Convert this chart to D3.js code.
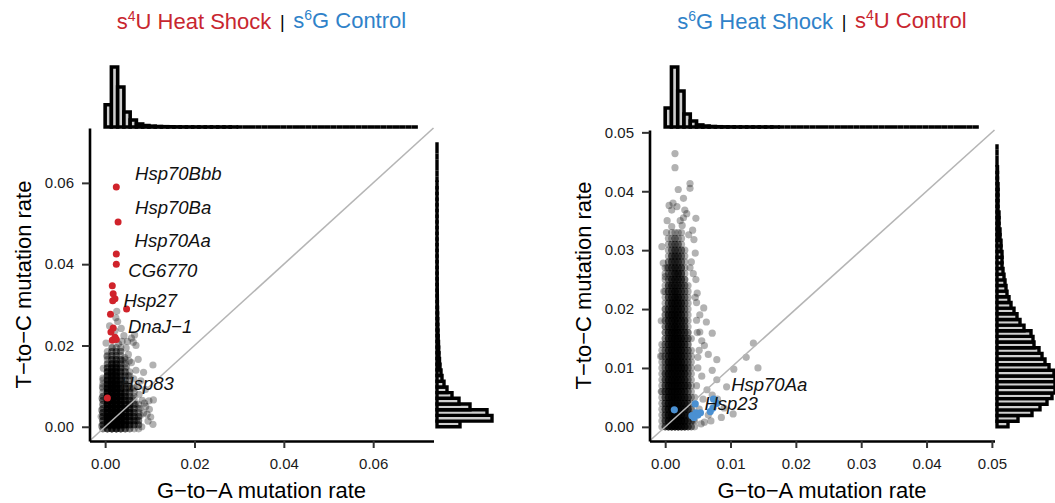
<!DOCTYPE html>
<html>
<head>
<meta charset="utf-8">
<script src="https://cdn.jsdelivr.net/npm/d3@7"></script>
<style>
  body { margin: 0; background: #fff; font-family: "Liberation Sans", Arial, sans-serif; }
  .tick text { font-size: 15px; fill: #1a1a1a; font-family: "Liberation Sans", Arial, sans-serif; }
  .tick line { stroke: #333; stroke-width: 2; }
  .domain { stroke: #000; stroke-width: 2.6; }
  .axis-title { font-size: 22px; fill: #000; }
  .gene { font-size: 18.5px; font-style: italic; fill: #111; }
  .title { font-size: 22px; }
</style>
</head>
<body>
<svg id="chart" width="1055" height="503"></svg>
<script>
// all rates below are in units of 1e-3 (mutation rate x 1000)
const hsLimits = [0, 70];
const ctLimits = [0, 48];
const hsTicks = [0, 20, 40, 60];
const ctTicks = [0, 10, 20, 30, 40, 50];

// marginal histograms, 50 bins over the limits
const hsGaHist = [1850, 5000, 3330, 1250, 580, 250, 120, 70, 40, 25, 15, 10, 6, 4, 3, 2, 2, 1, 1, 1, 1,
  0, 0, 0, 0, 0, 0, 0, 0, 0, 0, 0, 0, 0, 0, 0, 0, 0, 0, 0, 0, 0, 0, 0, 0, 0, 0, 0, 0, 0];
const hsTcHist = [2300, 5500, 5000, 3300, 2200, 1500, 1000, 700, 500, 400, 300, 250, 200, 170, 150, 120,
  100, 80, 70, 60, 50, 40, 35, 30, 25, 20, 15, 12, 10, 8, 6, 5, 4, 3, 3, 2, 2, 1, 1, 1, 1, 1, 1,
  0, 0, 0, 0, 0, 0, 0];
const ctGaHist = [1580, 5000, 3000, 1080, 500, 170, 80, 40, 20, 12, 8, 5, 3, 2, 2, 1, 1, 1,
  0, 0, 0, 0, 0, 0, 0, 0, 0, 0, 0, 0, 0, 0, 0, 0, 0, 0, 0, 0, 0, 0, 0, 0, 0, 0, 0, 0, 0, 0, 0, 0];
const ctTcHist = [110, 210, 350, 430, 500, 550, 580, 580, 580, 570, 520, 480, 450, 420, 370, 360, 340,
  270, 230, 200, 170, 140, 120, 100, 90, 80, 70, 60, 50, 50, 50, 40, 40, 30, 30, 20, 20, 20, 10, 10,
  10, 10, 10, 5, 5, 5, 0, 0, 0, 0];

// dense core of the s4U heat shock cloud: gene counts per (G-to-A, T-to-C) cell
const hsCoreX = [-0.5, 0.5, 1.5, 2.5, 3.5, 4.5, 5.5, 6.5, 7.5];
const hsCoreY = [-0.5, 0.5, 1.5, 2.5, 3.5, 4.5, 5.5, 6.5, 7.5, 8.5, 9.5, 10.5, 11.5, 12.5, 13.5,
  14.5, 15.5, 16.5, 17.5, 18.5, 19.5];
const hsCoreCounts = [
  [2, 4, 5, 5, 4, 3, 2, 1, 1],
  [3, 8, 9, 9, 8, 6, 4, 3, 2],
  [3, 9, 10, 9, 8, 6, 4, 3, 2],
  [3, 9, 10, 9, 8, 6, 4, 3, 2],
  [3, 8, 10, 9, 7, 5, 4, 3, 1],
  [2, 8, 9, 9, 7, 5, 4, 2, 1],
  [2, 8, 9, 8, 7, 5, 3, 2, 1],
  [2, 7, 9, 8, 6, 4, 3, 1, 0],
  [2, 7, 8, 8, 6, 4, 2, 1, 0],
  [1, 6, 8, 7, 5, 3, 2, 1, 0],
  [1, 6, 8, 7, 5, 3, 2, 1, 0],
  [1, 5, 7, 7, 4, 3, 1, 0, 0],
  [1, 5, 7, 6, 4, 2, 1, 0, 0],
  [0, 4, 6, 6, 3, 2, 1, 0, 0],
  [0, 4, 6, 5, 3, 2, 1, 0, 0],
  [0, 3, 5, 5, 3, 1, 0, 0, 0],
  [0, 2, 4, 4, 2, 1, 0, 0, 0],
  [0, 1, 3, 3, 2, 1, 0, 0, 0],
  [0, 1, 2, 2, 1, 0, 0, 0, 0],
  [0, 1, 2, 2, 1, 0, 0, 0, 0],
  [0, 0, 1, 1, 1, 0, 0, 0, 0]
];
const hsGrey = [[10.7, 15.2], [10.8, 6.6], [10.7, 0.6], [9.1, 5.0], [8.6, 3.4], [6.9, 20.0], [6.3, 20.8],
  [2.6, 28.4], [2.8, 25.9], [2.2, 23.6], [1.0, 24.8], [0.4, 17.3], [-0.4, 14.4], [5.9, 21.8], [6.6, 22.6],
  [8.6, 13.4], [3.4, 18.6], [4.4, 17.0], [5.9, 15.8], [6.9, 13.9], [8.0, 11.3], [7.6, 8.0], [9.8, 6.4],
  [9.4, 3.1], [8.2, 0.0], [-0.8, 4.1], [-0.6, 9.8], [-0.8, 0.2], [3.8, 21.0], [4.7, 19.4], [5.2, 17.8],
  [7.4, 16.6], [6.4, 11.8], [7.2, 10.0], [9.0, 9.2], [8.3, 6.5], [9.6, 1.4], [7.9, 2.8], [3.0, 20.4],
  [1.6, 19.5], [0.2, 20.6], [2.4, 26.8], [3.6, 24.2], [4.2, 22.4], [5.0, 21.0], [7.0, 1.5], [7.8, 4.5],
  [6.2, 7.0], [5.8, 9.5], [5.2, 12.5], [4.8, 14.8], [-0.9, 2.5], [-0.7, 7.0], [-0.5, 12.0], [3.9, 16.3],
  [8.8, 5.8], [9.9, 4.3], [10.2, 2.4], [6.8, 5.6], [5.4, 16.2]];
const hsRed = [[2.5, 59.0], [2.9, 50.4], [2.5, 42.5], [2.5, 40.0], [1.6, 34.7], [1.8, 32.7], [1.7, 31.0],
  [2.2, 31.5], [4.8, 29.0], [1.2, 27.7], [1.8, 24.3], [1.3, 23.3], [2.2, 22.0], [1.6, 21.3], [2.5, 21.5],
  [0.5, 7.1]];
const hsLabels = [["Hsp70Bbb", 6.7, 60.7], ["Hsp70Ba", 6.7, 52.3], ["Hsp70Aa", 6.6, 44.2],
  ["CG6770", 5.2, 36.8], ["Hsp27", 4.1, 29.4], ["DnaJ-1", 5.1, 23.0], ["Hsp83", 3.4, 9.1]];

// s6G heat shock cloud
const ctCoreX = [-0.5, 0, 0.5, 1, 1.5, 2, 2.5, 3, 3.5, 4, 4.5];
const ctCoreY = [0, 1, 2, 3, 4, 5, 6, 7, 8, 9, 10, 11, 12, 13, 14, 15, 16, 17, 18, 19, 20, 21, 22, 23,
  24, 25, 26, 27, 28, 29, 30, 31, 32, 33];
const ctCoreCounts = [
  [1, 3, 5, 6, 6, 6, 5, 5, 3, 2, 1],
  [1, 3, 5, 6, 6, 6, 6, 5, 3, 2, 1],
  [1, 3, 5, 6, 6, 6, 6, 4, 3, 2, 1],
  [1, 3, 5, 6, 6, 6, 5, 4, 3, 2, 0],
  [1, 3, 5, 6, 6, 6, 5, 4, 3, 1, 0],
  [1, 3, 5, 6, 6, 6, 5, 4, 3, 1, 1],
  [1, 3, 5, 6, 6, 6, 5, 4, 2, 1, 0],
  [1, 3, 5, 6, 6, 6, 5, 4, 3, 1, 0],
  [1, 3, 5, 6, 6, 6, 5, 4, 2, 1, 0],
  [1, 3, 5, 6, 6, 6, 5, 4, 2, 1, 0],
  [1, 2, 5, 6, 6, 6, 5, 4, 2, 1, 0],
  [1, 2, 5, 6, 6, 6, 5, 3, 2, 1, 0],
  [1, 2, 4, 6, 6, 6, 5, 3, 2, 1, 0],
  [1, 2, 4, 6, 6, 6, 5, 3, 2, 1, 0],
  [1, 2, 4, 6, 6, 6, 5, 3, 2, 0, 0],
  [0, 2, 4, 6, 6, 6, 5, 3, 2, 1, 0],
  [0, 2, 4, 6, 6, 6, 4, 3, 2, 0, 0],
  [0, 2, 4, 5, 6, 5, 4, 3, 1, 0, 0],
  [0, 2, 4, 5, 6, 5, 4, 3, 1, 0, 0],
  [0, 2, 4, 5, 6, 5, 4, 2, 1, 0, 0],
  [0, 2, 3, 5, 5, 5, 4, 2, 1, 0, 0],
  [0, 1, 3, 5, 5, 5, 4, 2, 1, 0, 0],
  [0, 1, 3, 4, 5, 5, 3, 2, 1, 0, 0],
  [0, 1, 3, 4, 5, 4, 3, 2, 1, 0, 0],
  [0, 1, 3, 4, 4, 4, 3, 2, 1, 0, 0],
  [0, 1, 2, 4, 4, 4, 3, 2, 0, 0, 0],
  [0, 1, 2, 3, 4, 4, 3, 1, 0, 0, 0],
  [0, 1, 2, 3, 4, 3, 3, 1, 0, 0, 0],
  [0, 0, 2, 3, 3, 3, 2, 1, 0, 0, 0],
  [0, 0, 1, 3, 3, 3, 2, 1, 0, 0, 0],
  [0, 0, 1, 2, 3, 2, 2, 1, 0, 0, 0],
  [0, 0, 1, 2, 2, 2, 1, 0, 0, 0, 0],
  [0, 0, 1, 1, 2, 1, 1, 0, 0, 0, 0],
  [0, 0, 0, 1, 1, 1, 1, 0, 0, 0, 0]
];
const ctGrey = [[1.5, 46.4], [1.5, 44.0], [2.0, 40.3], [3.8, 41.3], [3.8, 40.5], [4.7, 35.4], [2.8, 38.8],
  [1.2, 38.0], [1.0, 36.8], [3.0, 36.8], [3.3, 36.2], [0.3, 35.0], [2.3, 35.0], [2.8, 35.5], [0.2, 33.0],
  [1.0, 34.0], [1.8, 37.4], [2.6, 34.2], [0.6, 37.6], [4.3, 26.0], [4.6, 29.5], [4.0, 28.0], [3.8, 27.0],
  [4.9, 22.7], [4.8, 21.1], [0.3, 27.0], [0.0, 25.5], [-0.2, 23.0], [-0.5, 30.6], [-0.3, 27.8], [4.4, 31.8],
  [4.2, 33.4], [3.6, 32.6], [-0.6, 18.0], [-0.7, 12.0], [-0.6, 6.0], [6.3, 17.8], [7.2, 15.9], [6.0, 13.8],
  [7.9, 11.4], [13.5, 14.2], [12.4, 11.8], [14.2, 10.0], [10.5, 9.8], [7.2, 9.6], [9.4, 6.8], [7.2, 5.4],
  [10.4, 2.2], [7.0, 1.0], [4.3, 1.2], [5.8, 4.7], [8.0, 4.7], [6.0, 0.8], [5.5, 0.5], [4.8, 7.0],
  [5.0, 10.0], [5.2, 13.0], [4.9, 16.0], [5.3, 19.0], [4.6, 22.0], [4.8, 18.1], [5.3, 16.1], [7.9, 8.0],
  [6.4, 6.3], [5.6, 8.6], [5.2, 3.0], [6.6, 2.0], [8.6, 1.6], [5.0, 11.8], [5.6, 14.6], [4.7, 25.0],
  [5.9, 20.2], [6.6, 12.3], [9.0, 3.2]];
const ctBlue = [[1.4, 2.9], [4.6, 3.9], [4.1, 1.9], [4.7, 2.4], [5.0, 2.0], [5.4, 2.4], [6.9, 2.6],
  [7.4, 4.7], [7.3, 3.2], [7.9, 4.0], [4.4, 1.6]];
const ctLabels = [["Hsp70Aa", 10.1, 6.15], ["Hsp23", 6.0, 2.9]];

const red = "#d0232b", blue = "#4a90d2";
const titleRed = "#c8262f", titleBlue = "#2f82c9";

const svg = d3.select("#chart");

function expandCore(xs, ys, counts) {
  const pts = [];
  counts.forEach((row, j) => row.forEach((n, i) => {
    for (let k = 0; k < n; k++) pts.push([xs[i], ys[j]]);
  }));
  return pts;
}

function drawPanel(p) {
  const span = p.limits[1] - p.limits[0];
  const dom = [p.limits[0] - 0.05 * span, p.limits[1] + 0.05 * span];
  const x = d3.scaleLinear().domain(dom).range(p.xRange);
  const y = d3.scaleLinear().domain(dom).range(p.yRange);
  const g = svg.append("g");
  const bw = span / 50;

  // top marginal histogram (G-to-A); paths so empty bins still draw their outline
  const hTop = d3.scaleLinear().domain([0, d3.max(p.gaHist)]).range([0, 60]);
  g.append("g").selectAll("path").data(p.gaHist).join("path")
    .attr("d", (d, i) => {
      const x0 = x(p.limits[0] + i * bw), x1 = x(p.limits[0] + (i + 1) * bw);
      return `M${x0},${p.topBase}V${p.topBase - hTop(d)}H${x1}V${p.topBase}Z`;
    })
    .attr("fill", "#cfcfcf").attr("stroke", "#000").attr("stroke-width", 3.6);

  // right marginal histogram (T-to-C)
  const hSide = d3.scaleLinear().domain([0, d3.max(p.tcHist)]).range([0, p.sideMax]);
  g.append("g").selectAll("path").data(p.tcHist).join("path")
    .attr("d", (d, i) => {
      const y0 = y(p.limits[0] + i * bw), y1 = y(p.limits[0] + (i + 1) * bw);
      return `M${p.sideBase},${y0}H${p.sideBase + hSide(d)}V${y1}H${p.sideBase}Z`;
    })
    .attr("fill", "#cfcfcf").attr("stroke", "#000").attr("stroke-width", 3.4);

  // grey points
  const grey = expandCore(p.coreX, p.coreY, p.coreCounts).concat(p.grey);
  g.append("g").selectAll("circle").data(grey).join("circle")
    .attr("cx", d => x(d[0])).attr("cy", d => y(d[1])).attr("r", 3.6)
    .attr("fill", "#000").attr("fill-opacity", 0.3);

  // y = x
  g.append("line")
    .attr("x1", x(dom[0])).attr("y1", y(dom[0]))
    .attr("x2", x(dom[1])).attr("y2", y(dom[1]))
    .attr("stroke", "#b5b5b5").attr("stroke-width", 1.6);

  g.append("g").selectAll("circle").data(p.hits).join("circle")
    .attr("cx", d => x(d[0])).attr("cy", d => y(d[1])).attr("r", p.hitR)
    .attr("fill", p.hitColor);

  g.append("g").selectAll("text").data(p.labels).join("text")
    .attr("class", "gene")
    .attr("x", d => x(d[1])).attr("y", d => y(d[2]))
    .text(d => d[0].replace("-", "\u2212"));

  const fmt = d => (d / 1000).toFixed(2);
  g.append("g").attr("transform", `translate(0,${p.yRange[0]})`)
    .call(d3.axisBottom(x).tickValues(p.ticks).tickFormat(fmt).tickSize(7).tickSizeOuter(0).tickPadding(10));
  g.append("g").attr("transform", `translate(${p.xRange[0]},0)`)
    .call(d3.axisLeft(y).tickValues(p.ticks).tickFormat(fmt).tickSize(7.5).tickSizeOuter(0).tickPadding(8));

  const cx = (p.xRange[0] + p.xRange[1]) / 2;
  const cy = (p.yRange[0] + p.yRange[1]) / 2;
  g.append("text").attr("class", "axis-title").attr("text-anchor", "middle")
    .attr("x", cx).attr("y", 498).text("G\u2212to\u2212A mutation rate");
  g.append("text").attr("class", "axis-title").attr("text-anchor", "middle")
    .attr("transform", `translate(${p.xRange[0] - 59},${cy}) rotate(-90)`)
    .text("T\u2212to\u2212C mutation rate");

  // title
  const t = g.append("text").attr("class", "title").attr("text-anchor", "middle")
    .attr("x", cx).attr("y", 29);
  p.title.forEach(part => {
    t.append("tspan").attr("fill", part.c).text(part.a);
    t.append("tspan").attr("fill", part.c).attr("font-size", 14).attr("dy", -8).text(part.sup);
    t.append("tspan").attr("fill", part.c).attr("dy", 8).text(part.b);
    if (part.sep) {
      t.append("tspan").attr("fill", "#000").attr("font-size", 18).attr("dy", -1).text("\u2009 | \u2009");
      t.append("tspan").attr("dy", 1).text("");
    }
  });
}

drawPanel({
  limits: hsLimits, ticks: hsTicks, xRange: [89.5, 433.5], yRange: [441, 128],
  topBase: 127, sideBase: 437, sideMax: 55,
  gaHist: hsGaHist, tcHist: hsTcHist,
  coreX: hsCoreX, coreY: hsCoreY, coreCounts: hsCoreCounts, grey: hsGrey,
  hits: hsRed, hitR: 3.5, hitColor: red, labels: hsLabels,
  title: [{ a: "s", sup: "4", b: "U Heat Shock", c: titleRed, sep: true },
          { a: "s", sup: "6", b: "G Control", c: titleBlue }]
});

drawPanel({
  limits: ctLimits, ticks: ctTicks, xRange: [649.5, 994.5], yRange: [441, 130],
  topBase: 127, sideBase: 997, sideMax: 58,
  gaHist: ctGaHist, tcHist: ctTcHist,
  coreX: ctCoreX, coreY: ctCoreY, coreCounts: ctCoreCounts, grey: ctGrey,
  hits: ctBlue, hitR: 3.6, hitColor: blue, labels: ctLabels,
  title: [{ a: "s", sup: "6", b: "G Heat Shock", c: titleBlue, sep: true },
          { a: "s", sup: "4", b: "U Control", c: titleRed }]
});
</script>
</body>
</html>
